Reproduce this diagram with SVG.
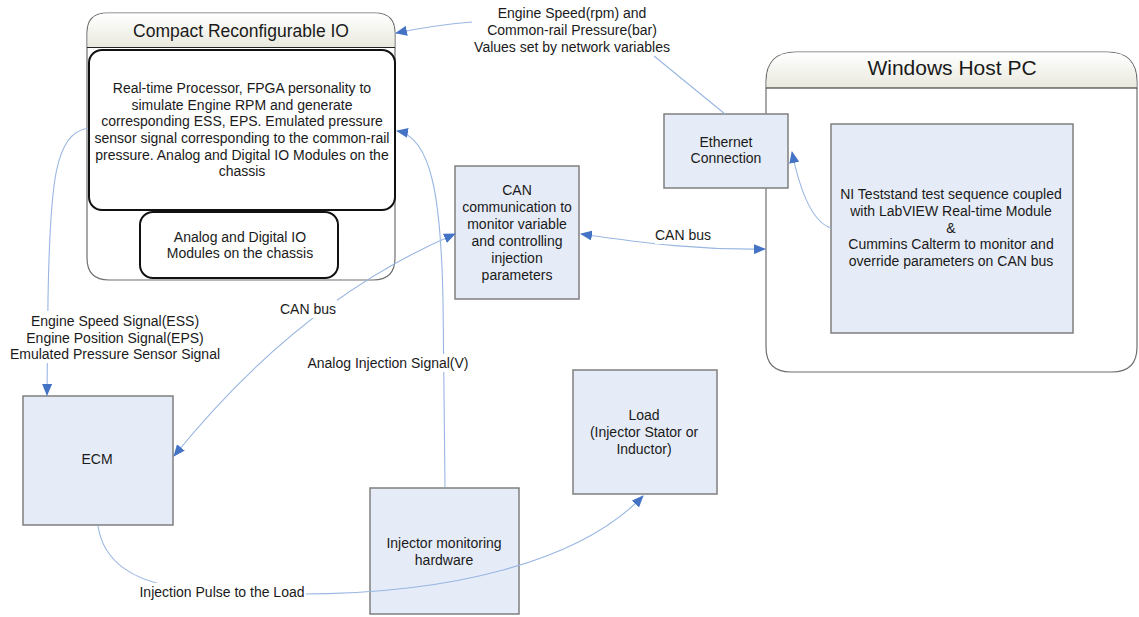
<svg xmlns="http://www.w3.org/2000/svg" width="1139" height="617" viewBox="0 0 1139 617">
<defs>
<linearGradient id="hdr" x1="0" y1="0" x2="0" y2="1">
<stop offset="0" stop-color="#ffffff"/>
<stop offset="1" stop-color="#e9e9de"/>
</linearGradient>
<marker id="ah" markerUnits="userSpaceOnUse" markerWidth="12" markerHeight="10" refX="11" refY="5" orient="auto-start-reverse" viewBox="0 0 12 10">
<path d="M0,0 L12,5 L0,10 Z" fill="#4472c4"/>
</marker>
</defs>
<style>
text{font-family:"Liberation Sans",Arial,sans-serif;font-size:14px;fill:#1a1a1a;text-anchor:middle}
.box{fill:#e6ecf7;stroke:#7f7f7f;stroke-width:1.5}
.inner{fill:#ffffff;stroke:#111111;stroke-width:2}
.cont{fill:#ffffff;stroke:#6f6f6f;stroke-width:1.2}
.sep{stroke:#222222;stroke-width:1.2}
.con{fill:none;stroke:#99b6e2;stroke-width:1.1}
.lbg{fill:#ffffff}
</style>

<g id="crio">
<path class="cont" d="M107,13 H375 Q395,13 395,33 V258 Q395,280 373,280 H109 Q87,280 87,258 V33 Q87,13 107,13 Z"/>
<path d="M107,13.6 H375 Q394.4,13.6 394.4,33 V47.5 H87.6 V33 Q87.6,13.6 107,13.6 Z" fill="url(#hdr)"/>
<line class="sep" x1="87" y1="47.5" x2="395" y2="47.5"/>
<text x="241" y="37" style="font-size:17.5px">Compact Reconfigurable IO</text>
</g>
<g id="crio-proc">
<rect class="inner" x="89" y="50" width="306" height="160" rx="13"/>
<text x="242" y="93">Real-time Processor, FPGA personality to</text>
<text x="242" y="110">simulate Engine RPM and generate</text>
<text x="242" y="126">corresponding ESS, EPS. Emulated pressure</text>
<text x="242" y="143">sensor signal corresponding to the common-rail</text>
<text x="242" y="160">pressure. Analog and Digital IO Modules on the</text>
<text x="242" y="176">chassis</text>
</g>
<g id="crio-io">
<rect class="inner" x="140" y="212" width="198" height="66" rx="13"/>
<text x="240" y="242">Analog and Digital IO</text>
<text x="240" y="258">Modules on the chassis</text>
</g>

<g id="host">
<path class="cont" d="M796,52 H1107 Q1137,52 1137,82 V347 Q1137,372 1112,372 H791 Q766,372 766,347 V82 Q766,52 796,52 Z"/>
<path d="M796,52.6 H1107 Q1136.4,52.6 1136.4,82 V88 H766.6 V82 Q766.6,52.6 796,52.6 Z" fill="url(#hdr)"/>
<line class="sep" x1="766" y1="88" x2="1137" y2="88"/>
<text x="952" y="75" style="font-size:21px">Windows Host PC</text>
</g>
<g id="ni">
<rect class="box" x="831" y="124" width="242" height="209"/>
<text x="951" y="199">NI Teststand test sequence coupled</text>
<text x="951" y="216">with LabVIEW Real-time Module</text>
<text x="951" y="233">&amp;</text>
<text x="951" y="249">Cummins Calterm to monitor and</text>
<text x="951" y="266">override parameters on CAN bus</text>
</g>

<g id="ethernet">
<rect class="box" x="664" y="114" width="124" height="74"/>
<text x="726" y="147">Ethernet</text>
<text x="726" y="163">Connection</text>
</g>

<g id="can">
<rect class="box" x="455" y="166" width="124" height="133"/>
<text x="517" y="195">CAN</text>
<text x="517" y="212">communication to</text>
<text x="517" y="229">monitor variable</text>
<text x="517" y="246">and controlling</text>
<text x="517" y="263">injection</text>
<text x="517" y="280">parameters</text>
</g>

<g id="ecm">
<rect class="box" x="23" y="396" width="150" height="129"/>
<text x="97" y="464">ECM</text>
</g>

<g id="injector">
<rect class="box" x="370" y="488" width="149" height="126"/>
<text x="444" y="548">Injector monitoring</text>
<text x="444" y="565">hardware</text>
</g>

<g id="load">
<rect class="box" x="573" y="370" width="144" height="124"/>
<text x="644" y="420">Load</text>
<text x="644" y="437">(Injector Stator or</text>
<text x="644" y="454">Inductor)</text>
</g>

<g id="connectors">
<path class="con" d="M472,22 Q435,25 396,33" marker-end="url(#ah)"/>
<path class="con" d="M654,56 L725,114"/>
<path class="con" d="M831,228 Q806,220 792,152" marker-end="url(#ah)"/>
<path class="con" d="M581,234 C650,244 700,250 765,249" marker-start="url(#ah)" marker-end="url(#ah)"/>
<path class="con" d="M455,234 Q300,300 174,456" marker-start="url(#ah)" marker-end="url(#ah)"/>
<path class="con" d="M445,487 L443,300 C441,200 432,137 397,131" marker-end="url(#ah)"/>
<path class="con" d="M88,128 C55,134 50,180 48,300 L47,395" marker-end="url(#ah)"/>
<path class="con" d="M98,526 C104,566 140,580 165,585"/>
<path class="con" d="M300,594 C450,594 580,562 643,496" marker-end="url(#ah)"/>

<rect class="lbg" x="279" y="300" width="58" height="18"/>
<text x="308" y="314">CAN bus</text>
<rect class="lbg" x="306" y="354" width="164" height="18"/>
<text x="388" y="368">Analog Injection Signal(V)</text>
<rect class="lbg" x="655" y="228" width="56" height="16"/>
<text x="683" y="240">CAN bus</text>
<rect class="lbg" x="8" y="311" width="214" height="52"/>
<text x="115" y="326">Engine Speed Signal(ESS)</text>
<text x="115" y="343">Engine Position Signal(EPS)</text>
<text x="115" y="359">Emulated Pressure Sensor Signal</text>
<rect class="lbg" x="138" y="583" width="168" height="18"/>
<text x="222" y="597">Injection Pulse to the Load</text>
<text x="572" y="18">Engine Speed(rpm) and</text>
<text x="572" y="35">Common-rail Pressure(bar)</text>
<text x="572" y="52">Values set by network variables</text>
</g>
</svg>
